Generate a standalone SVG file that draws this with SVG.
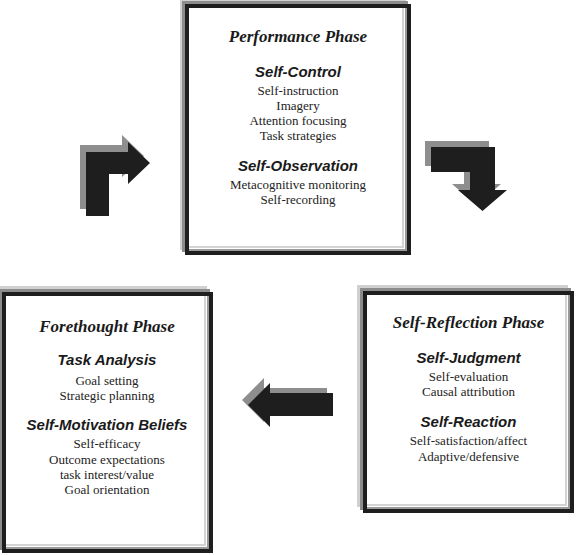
<svg xmlns="http://www.w3.org/2000/svg" width="576" height="555" viewBox="0 0 576 555">
<style>
.sh1{fill:#d0d0d0}
.sh2{fill:#8c8c8c}
.frame{fill:#fff;stroke:#1e1e1e;stroke-width:4}
.in1{fill:none;stroke:#9a9a9a;stroke-width:2}
.in2{fill:none;stroke:#d4d4d4;stroke-width:2}
.ph{font-family:"Liberation Serif",serif;font-weight:bold;font-style:italic;font-size:17px;fill:#1a1a1a;text-anchor:middle}
.hd{font-family:"Liberation Sans",Arial,sans-serif;font-weight:bold;font-style:italic;font-size:15px;fill:#1a1a1a;text-anchor:middle}
.tx{font-family:"Liberation Serif",serif;font-size:13px;fill:#222;text-anchor:middle}
.ar{fill:#1e1e1e}
.arg{fill:#8e8e8e}
</style>
<g id="performance">
<rect class="sh1" x="180" y="-1" width="226" height="251"/>
<rect class="sh2" x="182" y="1" width="226" height="251"/>
<rect class="frame" x="187" y="6" width="222" height="247"/>
<polyline class="in1" points="406,8 406,250 189,250"/>
<polyline class="in2" points="403,8 403,247 189,247"/>
<text class="ph" x="298" y="42">Performance Phase</text>
<text class="hd" x="298" y="77">Self-Control</text>
<text class="tx" x="298" y="95">Self-instruction</text>
<text class="tx" x="298" y="110">Imagery</text>
<text class="tx" x="298" y="125">Attention focusing</text>
<text class="tx" x="298" y="140">Task strategies</text>
<text class="hd" x="298" y="171">Self-Observation</text>
<text class="tx" x="298" y="189">Metacognitive monitoring</text>
<text class="tx" x="298" y="204">Self-recording</text>
</g>
<g id="forethought">
<rect class="sh1" x="-4" y="286" width="211" height="261"/>
<rect class="sh2" x="-1" y="289" width="211" height="261"/>
<rect class="frame" x="4" y="294" width="207" height="257"/>
<polyline class="in1" points="208,296 208,548 6,548"/>
<polyline class="in2" points="205,296 205,545 6,545"/>
<text class="ph" x="107" y="332">Forethought Phase</text>
<text class="hd" x="107" y="365">Task Analysis</text>
<text class="tx" x="107" y="385">Goal setting</text>
<text class="tx" x="107" y="400">Strategic planning</text>
<text class="hd" x="107" y="430">Self-Motivation Beliefs</text>
<text class="tx" x="107" y="448">Self-efficacy</text>
<text class="tx" x="107" y="464">Outcome expectations</text>
<text class="tx" x="107" y="479">task interest/value</text>
<text class="tx" x="107" y="494">Goal orientation</text>
</g>
<g id="selfreflection">
<rect class="sh1" x="357" y="285" width="211" height="222"/>
<rect class="sh2" x="360" y="288" width="211" height="222"/>
<rect class="frame" x="365" y="293" width="207" height="218"/>
<polyline class="in1" points="569,295 569,508 367,508"/>
<polyline class="in2" points="566,295 566,505 367,505"/>
<text class="ph" x="468.5" y="328">Self-Reflection Phase</text>
<text class="hd" x="468.5" y="363">Self-Judgment</text>
<text class="tx" x="468.5" y="381">Self-evaluation</text>
<text class="tx" x="468.5" y="396">Causal attribution</text>
<text class="hd" x="468.5" y="427">Self-Reaction</text>
<text class="tx" x="468.5" y="445">Self-satisfaction/affect</text>
<text class="tx" x="468.5" y="461">Adaptive/defensive</text>
</g>
<g id="connectors">
<g id="arrow-up-right">
<polygon class="arg" transform="translate(-6,-7)" points="86,216 86,152 128,152 128,142 150,163 128,184 128,174 109,174 109,216"/>
<polygon class="ar" points="86,216 86,152 128,152 128,142 150,163 128,184 128,174 109,174 109,216"/>
</g>
<g id="arrow-right-down">
<polygon class="arg" transform="translate(-6,-6)" points="431,147 495,147 495,190 507,190 482.5,211 458,190 470,190 470,172 431,172"/>
<polygon class="ar" points="431,147 495,147 495,190 507,190 482.5,211 458,190 470,190 470,172 431,172"/>
</g>
<g id="arrow-left">
<polygon class="arg" transform="translate(-6,-5)" points="333,393 270,393 270,383 248,405 270,427 270,416 333,416"/>
<polygon class="ar" points="333,393 270,393 270,383 248,405 270,427 270,416 333,416"/>
</g>
</g>
</svg>
